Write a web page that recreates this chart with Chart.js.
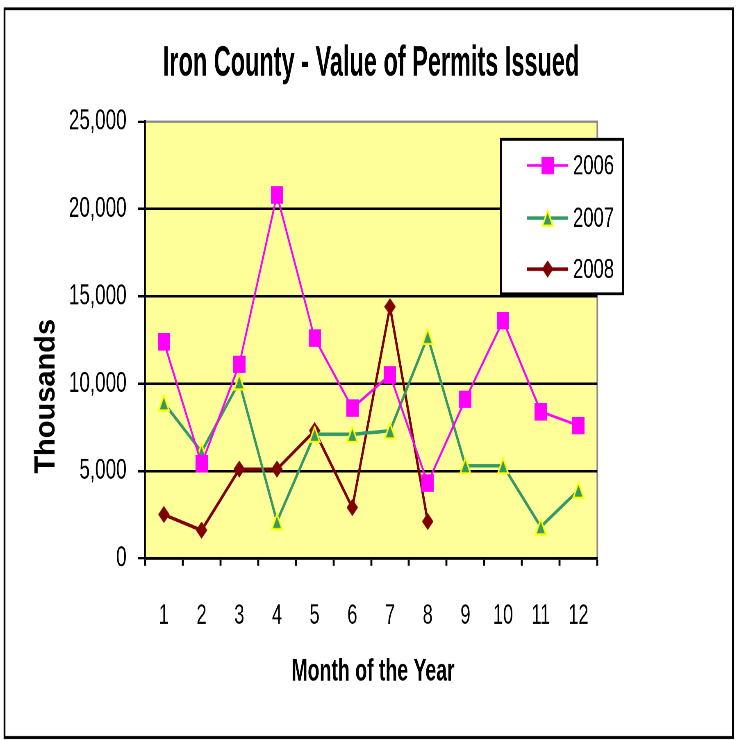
<!DOCTYPE html>
<html>
<head>
<meta charset="utf-8">
<script src="https://cdn.jsdelivr.net/npm/chart.js@4/dist/chart.umd.min.js"></script>
<style>
  html, body { margin: 0; padding: 0; background: #ffffff; }
  #outer { width: 737px; height: 740px; overflow: hidden; position: relative; }
  #wrap { position: absolute; left: 0; top: 0; width: 899px; height: 592px; transform: scale(0.81980, 1.25); transform-origin: 0 0; }
</style>
</head>
<body>
<div id="outer"><div id="wrap"><canvas id="c" width="899" height="592"></canvas></div></div>
<script>
// ---- data ----
const months = ['1','2','3','4','5','6','7','8','9','10','11','12'];
const values2006 = [12400, 5400, 11100, 20800, 12600, 8600, 10500, 4300, 9100, 13600, 8400, 7600];
const values2007 = [8900, 6100, 10100, 2100, 7100, 7100, 7300, 12700, 5300, 5300, 1800, 3900];
const values2008 = [2500, 1600, 5100, 5100, 7300, 2900, 14400, 2100, null, null, null, null];
const seriesNames = ['2006', '2007', '2008'];
const yTickLabels = ['0', '5,000', '10,000', '15,000', '20,000', '25,000'];
const chartTitle = 'Iron County - Value of Permits Issued';
const xTitle = 'Month of the Year';
const yTitle = 'Thousands';

const FONT = '"Liberation Sans", Arial, Helvetica, sans-serif';
const SX = 0.81980, SY = 1.25;   // page transform of the drawing

// ---- marker images (drawn at 2x for crispness) ----
function makeMarker(w, h, drawFn) {
  const s = 2;
  const cv = document.createElement('canvas');
  cv.width = Math.round(w * s); cv.height = Math.round(h * s);
  const g = cv.getContext('2d');
  g.scale(s, s);
  drawFn(g, w, h);
  return new Promise(res => {
    const img = new Image(w, h);
    img.onload = () => res(img);
    img.src = cv.toDataURL();
  });
}

Promise.all([
  makeMarker(15.5, 14.4, (g, w, h) => { g.fillStyle = '#FF00FF'; g.fillRect(0, 0, w, h); }),
  makeMarker(15, 14.5, (g, w, h) => {
    g.beginPath(); g.moveTo(w / 2, 1); g.lineTo(w - 1.2, h - 1); g.lineTo(1.2, h - 1); g.closePath();
    g.fillStyle = '#339966'; g.fill();
    g.lineWidth = 1.8; g.strokeStyle = '#FFFF00'; g.lineJoin = 'miter'; g.stroke();
  }),
  makeMarker(14.5, 14.8, (g, w, h) => {
    g.beginPath(); g.moveTo(w / 2, 0); g.lineTo(w, h / 2); g.lineTo(w / 2, h); g.lineTo(0, h / 2); g.closePath();
    g.fillStyle = '#800000'; g.fill();
  })
]).then(([sq, tri, dia]) => {
  const markers = [sq, tri, dia];
  const lineColors = ['#FF00FF', '#339966', '#800000'];
  const lineWidths = [2.2, 2.8, 2.8];

  function fitText(ctx, text, x, y, font, targetW) {
    ctx.save();
    ctx.font = font;
    const w = ctx.measureText(text).width;
    ctx.translate(x, y);
    ctx.scale(targetW / w, 1);
    ctx.fillText(text, 0, 0);
    ctx.restore();
  }

  const decor = {
    id: 'decor',
    beforeDraw(chart) {
      const ctx = chart.ctx, a = chart.chartArea;
      ctx.save();
      ctx.fillStyle = '#ffffff';
      ctx.fillRect(0, 0, chart.width, chart.height);
      ctx.fillStyle = '#FFFF99';
      ctx.fillRect(a.left, a.top, a.right - a.left, a.bottom - a.top);
      // plot border (top / right)
      ctx.strokeStyle = '#8c8c8c';
      ctx.lineWidth = 2;
      ctx.beginPath();
      ctx.moveTo(a.left, a.top); ctx.lineTo(a.right, a.top); ctx.lineTo(a.right, a.bottom);
      ctx.stroke();
      // outer frame
      ctx.strokeStyle = '#000000';
      ctx.lineWidth = 2.2;
      ctx.strokeRect(5.5, 7, 888.5, 583);
      // title
      ctx.fillStyle = '#000000';
      ctx.textAlign = 'center';
      ctx.textBaseline = 'middle';
      fitText(ctx, chartTitle, 452.6, 51, 'bold 34px ' + FONT, 508);
      // x title
      fitText(ctx, xTitle, 455, 537.5, 'bold 25px ' + FONT, 199);
      // y title (drawn without the page distortion)
      ctx.translate(56.5, 317);
      ctx.scale(1 / SX, 1 / SY);
      ctx.rotate(-Math.PI / 2);
      ctx.font = 'bold 29px ' + FONT;
      ctx.fillText(yTitle, 0, 0);
      ctx.restore();
    },
    afterDatasetsDraw(chart) {
      const ctx = chart.ctx;
      ctx.save();
      const L = 611.1, T = 111.5, R = 760, B = 235;
      ctx.fillStyle = '#ffffff';
      ctx.fillRect(L, T, R - L, B - T);
      ctx.strokeStyle = '#000000';
      ctx.lineWidth = 2.2;
      ctx.strokeRect(L, T, R - L, B - T);
      const rows = [132.3, 174.5, 215.3];
      ctx.font = '22.5px ' + FONT;
      ctx.textAlign = 'left';
      ctx.textBaseline = 'middle';
      for (let i = 0; i < 3; i++) {
        const y = rows[i];
        ctx.strokeStyle = lineColors[i];
        ctx.lineWidth = lineWidths[i];
        ctx.beginPath(); ctx.moveTo(643, y); ctx.lineTo(693, y); ctx.stroke();
        const m = markers[i];
        ctx.drawImage(m, 668 - m.width / 2, y - m.height / 2, m.width, m.height);
        ctx.fillStyle = '#000000';
        ctx.fillText(seriesNames[i], 699, y + 1);
      }
      ctx.restore();
    }
  };

  const mk = (i, data) => ({
    label: seriesNames[i],
    data: data,
    borderColor: lineColors[i],
    backgroundColor: lineColors[i],
    borderWidth: lineWidths[i],
    pointStyle: markers[i],
    pointRadius: 8,
    pointHoverRadius: 8,
    tension: 0,
    spanGaps: false,
    fill: false
  });

  new Chart(document.getElementById('c'), {
    type: 'line',
    data: {
      labels: months,
      datasets: [mk(0, values2006), mk(1, values2007), mk(2, values2008)]
    },
    options: {
      responsive: false,
      animation: false,
      devicePixelRatio: 2,
      events: [],
      layout: { padding: { left: 0, top: 97.4, right: 170.4, bottom: 0 } },
      plugins: { legend: { display: false }, title: { display: false }, tooltip: { enabled: false } },
      scales: {
        x: {
          offset: true,
          grid: { offset: true, drawOnChartArea: false, drawTicks: true, tickLength: 6, tickColor: '#000', tickWidth: 2.4 },
          border: { color: '#000', width: 2.4 },
          ticks: { color: '#000', font: { family: FONT, size: 22 }, padding: 27, maxRotation: 0, autoSkip: false },
          afterFit(s) { s.height = 592 - 446.6; }
        },
        y: {
          min: 0, max: 25000,
          grid: {
            color: c => (c.tick && c.tick.value === 25000) ? 'rgba(0,0,0,0)' : '#000',
            lineWidth: 2, tickLength: 8.5, tickColor: '#000', tickWidth: 2
          },
          border: { color: '#000', width: 2.4 },
          ticks: {
            stepSize: 5000, color: '#000', padding: 14,
            font: { family: FONT, size: 23 },
            callback: (v, i) => yTickLabels[i]
          },
          afterFit(s) { s.width = 176.9; }
        }
      }
    },
    plugins: [decor]
  });
});
</script>
</body>
</html>
